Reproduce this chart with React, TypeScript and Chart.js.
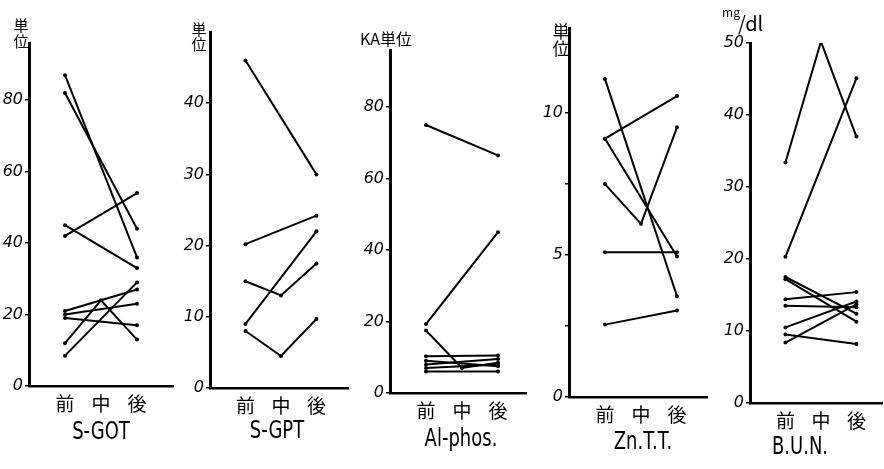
import React, { useEffect, useRef } from 'react';
import { Chart, registerables } from 'chart.js';

Chart.register(...registerables);

// ---------- data ----------
const CATEGORIES = ['前', '中', '後'];

// each series: [前, 中, 後]  (null = not measured)
const SGOT_SERIES: (number | null)[][] = [
  [87, null, 36],
  [82, null, 44],
  [42, null, 54],
  [45, null, 33],
  [21, null, 27],
  [20, null, 23],
  [19, null, 17],
  [12, 24, 13],
  [8.5, null, 29],
];
const SGOT_Y_TICKS = [0, 20, 40, 60, 80];
const SGOT_Y_LABELS = ['0', '20', '40', '60', '80'];

const SGPT_SERIES: (number | null)[][] = [
  [46, null, 30],
  [20.2, null, 24.2],
  [9, null, 22],
  [15, 13, 17.5],
  [8, 4.5, 9.7],
];
const SGPT_Y_TICKS = [0, 10, 20, 30, 40];
const SGPT_Y_LABELS = ['0', '10', '20', '30', '40'];

const ALP_SERIES: (number | null)[][] = [
  [75, null, 66.5],
  [19.3, null, 45],
  [17.5, 7, 8.5],
  [10.3, null, 10.5],
  [9, null, 7.5],
  [8, null, 9.5],
  [7, null, 8],
  [6, null, 6],
];
const ALP_Y_TICKS = [0, 20, 40, 60, 80];
const ALP_Y_LABELS = ['0', '20', '40', '60', '80'];

const ZTT_SERIES: (number | null)[][] = [
  [11.2, null, 3.55],
  [9.1, null, 10.6],
  [9.1, null, 4.95],
  [7.5, 6.1, 9.5],
  [5.1, null, 5.1],
  [2.55, null, 3.05],
];
const ZTT_Y_TICKS = [0, 2.5, 5, 7.5, 10];
const ZTT_Y_LABELS = ['0', '', '5', '', '10'];

const BUN_SERIES: (number | null)[][] = [
  [33.4, 50.2, 37],
  [20.3, null, 45.1],
  [17.5, null, 12.4],
  [17.2, null, 11.3],
  [14.4, null, 15.4],
  [13.5, null, 13.3],
  [10.5, null, 14.1],
  [9.5, null, 8.2],
  [8.4, null, 13.7],
];
const BUN_Y_TICKS = [0, 10, 20, 30, 40, 50];
const BUN_Y_LABELS = ['0', '10', '20', '30', '40', '50'];

// ---------- layout ----------
type UnitText = { text: string; x: number; y: number; size: number; align?: CanvasTextAlign };
type PanelCfg = {
  name: string;
  series: (number | null)[][];
  yMax: number;
  yTicks: number[];
  yLabels: string[];
  left: number;
  width: number;
  axisX: number;
  top: number;
  zero: number;
  right: number;
  units: UnitText[];
  titleX: number;
  titleY: number;
};

const H = 469;
const PX_PER_CAT = 36;

const PANELS: PanelCfg[] = [
  {
    name: 'S-GOT', series: SGOT_SERIES, yMax: 96, yTicks: SGOT_Y_TICKS, yLabels: SGOT_Y_LABELS,
    left: 0, width: 176, axisX: 29, top: 43, zero: 386, right: 173,
    units: [{ text: '単', x: 21, y: 25, size: 15 }, { text: '位', x: 21, y: 41, size: 15 }],
    titleX: 101, titleY: 432,
  },
  {
    name: 'S-GPT', series: SGPT_SERIES, yMax: 50, yTicks: SGPT_Y_TICKS, yLabels: SGPT_Y_LABELS,
    left: 176, width: 174, axisX: 210, top: 32, zero: 388, right: 350,
    units: [{ text: '単', x: 199, y: 29, size: 15 }, { text: '位', x: 199, y: 44, size: 15 }],
    titleX: 277, titleY: 431,
  },
  {
    name: 'Al-phos.', series: ALP_SERIES, yMax: 96, yTicks: ALP_Y_TICKS, yLabels: ALP_Y_LABELS,
    left: 350, width: 180, axisX: 390, top: 50, zero: 393, right: 526,
    units: [{ text: 'KA単位', x: 386, y: 39, size: 16 }],
    titleX: 461, titleY: 439,
  },
  {
    name: 'Zn.T.T.', series: ZTT_SERIES, yMax: 13, yTicks: ZTT_Y_TICKS, yLabels: ZTT_Y_LABELS,
    left: 530, width: 182, axisX: 569, top: 28, zero: 397, right: 707,
    units: [{ text: '単', x: 561, y: 32, size: 17 }, { text: '位', x: 561, y: 49, size: 17 }],
    titleX: 643, titleY: 442,
  },
  {
    name: 'B.U.N.', series: BUN_SERIES, yMax: 50, yTicks: BUN_Y_TICKS, yLabels: BUN_Y_LABELS,
    left: 712, width: 172, axisX: 750, top: 43, zero: 403, right: 884,
    units: [
      { text: 'mg', x: 740, y: 12, size: 12, align: 'right' },
      { text: '/dl', x: 738, y: 23, size: 20, align: 'left' },
    ],
    titleX: 800, titleY: 447,
  },
];

const CJK = '"Noto Sans CJK JP", "Noto Sans", sans-serif';

function makeTextPlugin(cfg: PanelCfg) {
  return {
    id: 'panelText',
    afterDraw(chart: any) {
      const ctx: CanvasRenderingContext2D = chart.ctx;
      ctx.save();
      ctx.fillStyle = '#000';
      ctx.textBaseline = 'middle';
      for (const u of cfg.units) {
        ctx.textAlign = u.align ?? 'center';
        ctx.font = `${u.size}px ${CJK}`;
        ctx.fillText(u.text, u.x - cfg.left, u.y);
      }
      ctx.textAlign = 'center';
      ctx.translate(cfg.titleX - cfg.left, cfg.titleY);
      ctx.scale(0.72, 1);
      ctx.font = '25px "DejaVu Sans", sans-serif';
      ctx.fillText(cfg.name, 0, 0);
      ctx.restore();
    },
  };
}

function Panel({ cfg }: { cfg: PanelCfg }) {
  const ref = useRef<HTMLCanvasElement>(null);
  useEffect(() => {
    if (!ref.current) return;
    const datasets = cfg.series.map((s) => ({
      data: s
        .map((v, i) => (v === null ? null : { x: i, y: v }))
        .filter((p) => p !== null) as { x: number; y: number }[],
      borderColor: '#000',
      backgroundColor: '#000',
      borderWidth: 2,
      pointRadius: 2,
      pointHoverRadius: 2,
      pointBorderWidth: 0,
      tension: 0,
      fill: false,
    }));
    const chart = new Chart(ref.current, {
      type: 'line',
      data: { datasets },
      options: {
        responsive: false,
        animation: false,
        devicePixelRatio: 1,
        events: [],
        layout: {
          padding: { top: cfg.top, left: 0, right: cfg.left + cfg.width - cfg.right, bottom: 0 },
        },
        plugins: {
          legend: { display: false },
          tooltip: { enabled: false },
          title: { display: false },
        },
        scales: {
          x: {
            type: 'linear',
            min: -1,
            max: -1 + (cfg.right - cfg.axisX) / PX_PER_CAT,
            afterBuildTicks: (s: any) => {
              s.ticks = CATEGORIES.map((_, i) => ({ value: i }));
            },
            afterFit: (s: any) => {
              s.height = H - cfg.zero;
            },
            ticks: {
              autoSkip: false,
              maxRotation: 0,
              padding: 6,
              color: '#000',
              font: { family: CJK, size: 19 },
              callback: (_v: any, i: number) => CATEGORIES[i] ?? '',
            },
            grid: { display: true, drawOnChartArea: false, drawTicks: false },
            border: { color: '#000', width: 2.5 },
          },
          y: {
            type: 'linear',
            min: 0,
            max: cfg.yMax,
            afterBuildTicks: (s: any) => {
              s.ticks = cfg.yTicks.map((v) => ({ value: v }));
            },
            afterFit: (s: any) => {
              s.width = cfg.axisX - cfg.left;
            },
            ticks: {
              autoSkip: false,
              padding: 2,
              color: '#000',
              font: { family: '"DejaVu Sans", sans-serif', size: 16, style: 'italic' },
              callback: (_v: any, i: number) => cfg.yLabels[i] ?? '',
            },
            grid: { display: true, drawOnChartArea: false, drawTicks: true, tickLength: 4, color: '#000', lineWidth: 1.5 },
            border: { color: '#000', width: 3 },
          },
        },
      } as any,
      plugins: [makeTextPlugin(cfg)],
    });
    return () => chart.destroy();
  }, [cfg]);
  return (
    <div style={{ position: 'absolute', left: cfg.left, top: 0, width: cfg.width, height: H }}>
      <canvas ref={ref} width={cfg.width} height={H} style={{ width: cfg.width, height: H, display: 'block' }} />
    </div>
  );
}

export default function App() {
  return (
    <div style={{ position: 'fixed', left: 0, top: 0, width: 884, height: H, background: '#fff', overflow: 'hidden' }}>
      {PANELS.map((p) => (
        <Panel key={p.name} cfg={p} />
      ))}
    </div>
  );
}
